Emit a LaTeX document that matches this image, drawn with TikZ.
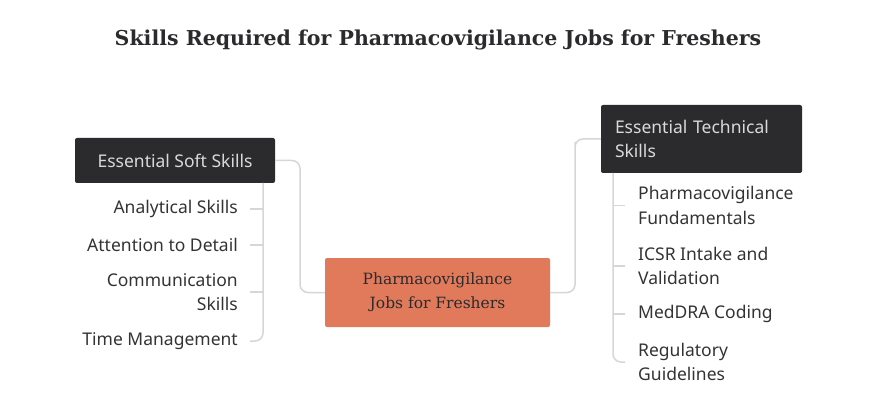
\documentclass[tikz,border=0pt]{standalone}
\usepackage{fontspec}
\setmainfont{DejaVu Serif}
\setsansfont{Noto Sans}
\usetikzlibrary{positioning}
\definecolor{headbg}{HTML}{2B2B2E}
\definecolor{hubbg}{HTML}{E07A5A}
\definecolor{wire}{HTML}{D6D6D6}
\definecolor{itemtxt}{HTML}{333333}
\tikzset{
  head/.style={fill=headbg, rounded corners=2pt, text=white!85!black, font=\sffamily\fontsize{17.5}{24}\selectfont, inner sep=0pt},
  item/.style={text=itemtxt, font=\sffamily\fontsize{17.5}{24.5}\selectfont, inner sep=0pt},
  wire/.style={draw=wire, line width=1.5pt, rounded corners=8pt},
}
\begin{document}
\begin{tikzpicture}[x=1pt, y=-1pt]
\useasboundingbox (0,0) rectangle (876,401);
\node[font=\bfseries\fontsize{20.5}{24}\selectfont, text=headbg] (title) at (438,40) {Skills Required for Pharmacovigilance Jobs for Freshers};

\node[fill=hubbg, rounded corners=2pt, minimum width=225pt, minimum height=69pt, align=center, text=headbg, font=\fontsize{15.5}{24}\selectfont] (hub) at (437.5,292.5) {Pharmacovigilance\\Jobs for Freshers};

\node[head, minimum width=200pt, minimum height=45pt] (soft) at (175,160.5) {Essential Soft Skills};
\node[head, minimum width=201pt, minimum height=68pt, align=left, text width=173pt] (tech) at (701.5,139) {Essential Technical\\Skills};

% left items
\node[item, anchor=east] (s1) at (238,209) {Analytical Skills};
\node[item, anchor=east] (s2) at (238,245) {Attention to Detail};
\node[item, anchor=east, align=right] (s3) at (238,292) {Communication\\Skills};
\node[item, anchor=east] (s4) at (238,341) {Time Management};

% right items
\node[item, anchor=west, align=left] (t1) at (638,205.5) {Pharmacovigilance\\Fundamentals};
\node[item, anchor=west, align=left] (t2) at (638,266) {ICSR Intake and\\Validation};
\node[item, anchor=west] (t3) at (638,314) {MedDRA Coding};
\node[item, anchor=west, align=left] (t4) at (638,362) {Regulatory\\Guidelines};

% hub to headers
\draw[wire] (hub.west) -| (300,180) |- (soft.east);
\draw[wire] (hub.east) -| (575,150) |- (tech.west);

% soft skill tree
\draw[wire] (263,183) |- (250,341);
\foreach \n in {s1,s2,s3} \draw[wire] (250,0 |- \n.east) -- (263,0 |- \n.east);

% technical skill tree
\draw[wire] (613,173) |- (625,362);
\foreach \n in {t1,t2,t3} \draw[wire] (613,0 |- \n.west) -- (625,0 |- \n.west);
\end{tikzpicture}
\end{document}
